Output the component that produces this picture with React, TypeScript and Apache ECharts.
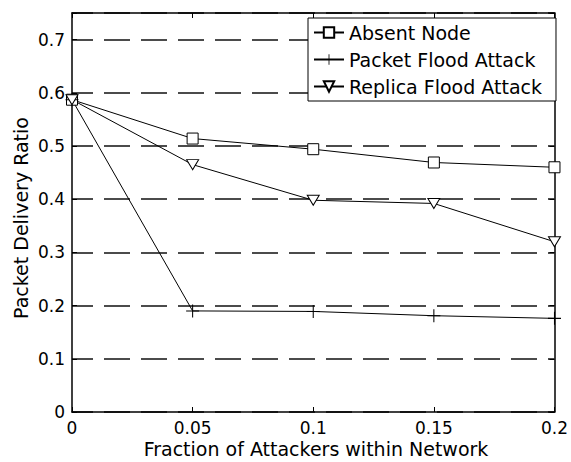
import React, { useEffect, useRef } from "react";
import * as echarts from "echarts";

const xValues = [0, 0.05, 0.1, 0.15, 0.2];
const absentNode = [0.587, 0.514, 0.494, 0.469, 0.46];
const packetFlood = [0.587, 0.19, 0.189, 0.181, 0.176];
const replicaFlood = [0.587, 0.465, 0.398, 0.392, 0.32];
const seriesNames = ["Absent Node", "Packet Flood Attack", "Replica Flood Attack"];
const xTitle = "Fraction of Attackers within Network";
const yTitle = "Packet Delivery Ratio";

const FONT = "DejaVu Sans";
const PLUS = "path://M9.2,0H10.8V20H9.2Z M0,9.2H20V10.8H0Z";

export default function App() {
  const ref = useRef<HTMLDivElement>(null);
  useEffect(() => {
    document.body.style.margin = "0";
    const chart = echarts.init(ref.current!, null, { renderer: "svg" });
    const pair = (ys: number[]) => xValues.map((x, i) => [x, ys[i]]);
    const baseLine = { color: "#000", width: 1 };
    chart.setOption({
      animation: false,
      backgroundColor: "#fff",
      grid: { left: 72, right: 10, top: 13, bottom: 50, show: false },
      xAxis: [
        {
          type: "value",
          min: 0,
          max: 0.2,
          interval: 0.05,
          position: "bottom",
          axisLine: { show: true, onZero: false, lineStyle: { color: "#000", width: 1.5 } },
          axisTick: { show: true, inside: true, length: 5, lineStyle: { color: "#000", width: 1 } },
          axisLabel: {
            color: "#000",
            fontFamily: FONT,
            fontSize: 17,
            margin: 7,
            formatter: (v: number) => String(+v.toFixed(2)),
          },
          splitLine: { show: false },
        },
        {
          type: "value",
          min: 0,
          max: 0.2,
          interval: 0.05,
          position: "top",
          axisLine: { show: true, onZero: false, lineStyle: { color: "#000", width: 1.5 } },
          axisTick: { show: true, inside: true, length: 5, lineStyle: { color: "#000", width: 1 } },
          axisLabel: { show: false },
          splitLine: { show: false },
        },
      ],
      yAxis: [
        {
          type: "value",
          min: 0,
          max: 0.75,
          interval: 0.1,
          position: "left",
          axisLine: { show: true, onZero: false, lineStyle: { color: "#000", width: 1.5 } },
          axisTick: { show: true, inside: true, length: 5, lineStyle: { color: "#000", width: 1 } },
          axisLabel: {
            color: "#000",
            fontFamily: FONT,
            fontSize: 17,
            margin: 7,
            formatter: (v: number) => {
              const r = Math.round(v * 10) / 10;
              if (Math.abs(r - v) > 1e-6) return "";
              return String(r);
            },
          },
          splitLine: {
            show: true,
            lineStyle: { color: "#111", width: 1.5, type: [26, 11], dashOffset: 5 },
          },
        },
        {
          type: "value",
          min: 0,
          max: 0.75,
          interval: 0.1,
          position: "right",
          axisLine: { show: true, onZero: false, lineStyle: { color: "#000", width: 1.5 } },
          axisTick: { show: true, inside: true, length: 5, lineStyle: { color: "#000", width: 1 } },
          axisLabel: { show: false },
          splitLine: { show: false },
        },
      ],
      legend: {
        orient: "vertical",
        left: 308,
        top: 18,
        padding: [5, 14, 5, 5],
        itemGap: 8,
        itemWidth: 30,
        itemHeight: 13,
        backgroundColor: "#fff",
        borderColor: "#000",
        borderWidth: 1,
        textStyle: { color: "#000", fontFamily: FONT, fontSize: 19 },
        data: seriesNames,
      },
      graphic: [
        {
          type: "text",
          x: 316,
          y: 449,
          style: {
            text: xTitle,
            fill: "#000",
            font: `19px "${FONT}"`,
            textAlign: "center",
            textVerticalAlign: "middle",
          },
        },
        {
          type: "text",
          x: 21,
          y: 218,
          rotation: Math.PI / 2,
          style: {
            text: yTitle,
            fill: "#000",
            font: `19px "${FONT}"`,
            textAlign: "center",
            textVerticalAlign: "middle",
          },
        },
      ],
      series: [
        {
          name: seriesNames[0],
          type: "line",
          data: pair(absentNode),
          symbol: "rect",
          symbolSize: 11,
          lineStyle: baseLine,
          itemStyle: { color: "#fff", borderColor: "#000", borderWidth: 1 },
          z: 3,
        },
        {
          name: seriesNames[1],
          type: "line",
          data: pair(packetFlood),
          symbol: PLUS,
          symbolSize: 13,
          lineStyle: baseLine,
          itemStyle: { color: "#000", borderWidth: 0 },
          z: 3,
        },
        {
          name: seriesNames[2],
          type: "line",
          data: pair(replicaFlood),
          symbol: "triangle",
          symbolRotate: 180,
          symbolSize: [12, 10],
          lineStyle: baseLine,
          itemStyle: { color: "#fff", borderColor: "#000", borderWidth: 1 },
          z: 3,
        },
      ],
    });
    return () => chart.dispose();
  }, []);
  return <div ref={ref} style={{ width: 571, height: 462 }} />;
}
